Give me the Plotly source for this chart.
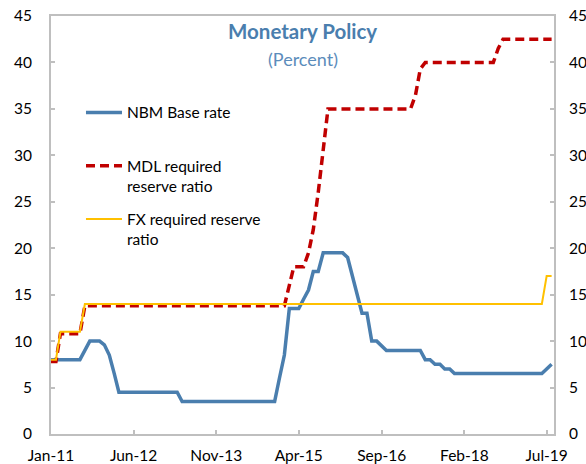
import pandas as pd
import plotly.graph_objects as go

# ---- data (monthly, Jan-2011 .. Aug-2019) ----
start_month = "2011-01-01"

base_rate = [
    8, 8, 8, 8, 8, 8, 8, 9, 10, 10, 10, 9.6,            # 2011
    8.5, 6.5, 4.5, 4.5, 4.5, 4.5, 4.5, 4.5, 4.5, 4.5, 4.5, 4.5,  # 2012
    4.5, 4.5, 4.5, 3.5, 3.5, 3.5, 3.5, 3.5, 3.5, 3.5, 3.5, 3.5,  # 2013
    3.5, 3.5, 3.5, 3.5, 3.5, 3.5, 3.5, 3.5, 3.5, 3.5, 3.5, 6,    # 2014
    8.5, 13.5, 13.5, 13.5, 14.5, 15.5, 17.5, 17.5, 19.5, 19.5, 19.5, 19.5,  # 2015
    19.5, 19, 17, 15, 13, 13, 10, 10, 9.5, 9, 9, 9,      # 2016
    9, 9, 9, 9, 9, 8, 8, 7.5, 7.5, 7, 7, 6.5,            # 2017
    6.5, 6.5, 6.5, 6.5, 6.5, 6.5, 6.5, 6.5, 6.5, 6.5, 6.5, 6.5,  # 2018
    6.5, 6.5, 6.5, 6.5, 6.5, 6.5, 7, 7.5,                # 2019
]

mdl_rr = [
    7.8, 7.8, 10.8, 10.8, 10.8, 10.8, 10.8, 13.8, 13.8, 13.8, 13.8, 13.8,
    13.8, 13.8, 13.8, 13.8, 13.8, 13.8, 13.8, 13.8, 13.8, 13.8, 13.8, 13.8,
    13.8, 13.8, 13.8, 13.8, 13.8, 13.8, 13.8, 13.8, 13.8, 13.8, 13.8, 13.8,
    13.8, 13.8, 13.8, 13.8, 13.8, 13.8, 13.8, 13.8, 13.8, 13.8, 13.8, 13.8,
    13.8, 16, 18, 18, 18, 19.5, 22, 26, 31, 35, 35, 35,
    35, 35, 35, 35, 35, 35, 35, 35, 35, 35, 35, 35,
    35, 35, 35, 36.5, 39.3, 40, 40, 40, 40, 40, 40, 40,
    40, 40, 40, 40, 40, 40, 40, 40, 41.5, 42.5, 42.5, 42.5,
    42.5, 42.5, 42.5, 42.5, 42.5, 42.5, 42.5, 42.5,
]

fx_rr = [
    8, 8, 11, 11, 11, 11, 11, 14, 14, 14, 14, 14,
    14, 14, 14, 14, 14, 14, 14, 14, 14, 14, 14, 14,
    14, 14, 14, 14, 14, 14, 14, 14, 14, 14, 14, 14,
    14, 14, 14, 14, 14, 14, 14, 14, 14, 14, 14, 14,
    14, 14, 14, 14, 14, 14, 14, 14, 14, 14, 14, 14,
    14, 14, 14, 14, 14, 14, 14, 14, 14, 14, 14, 14,
    14, 14, 14, 14, 14, 14, 14, 14, 14, 14, 14, 14,
    14, 14, 14, 14, 14, 14, 14, 14, 14, 14, 14, 14,
    14, 14, 14, 14, 14, 14, 17, 17,
]

series_names = ["NBM Base rate", "MDL required<br>reserve ratio", "FX required reserve<br>ratio"]

tick_dates = ["2011-01-01", "2012-06-01", "2013-11-01", "2015-04-01",
              "2016-09-01", "2018-02-01", "2019-07-01"]
tick_labels = ["Jan-11", "Jun-12", "Nov-13", "Apr-15", "Sep-16", "Feb-18", "Jul-19"]
y_ticks = [0, 5, 10, 15, 20, 25, 30, 35, 40, 45]

months = pd.date_range(start_month, periods=len(base_rate), freq="MS")

BLUE = "#4A7EAE"
RED = "#C00000"
YELLOW = "#FFC000"
GRID = "#BFBFBF"
FONT = "Lato"

fig = go.Figure()
fig.add_trace(go.Scatter(
    x=months, y=base_rate, name=series_names[0] + "<br>\u00a0", mode="lines",
    line=dict(color=BLUE, width=3.5), legendgroup="g1"))
fig.add_trace(go.Scatter(
    x=months, y=mdl_rr, name=series_names[1], mode="lines",
    line=dict(color=RED, width=3.5, dash="9px,5px"), legendgroup="g2"))
fig.add_trace(go.Scatter(
    x=months, y=fx_rr, name=series_names[2], mode="lines", yaxis="y2",
    line=dict(color=YELLOW, width=2), legendgroup="g3"))

axis_common = dict(showgrid=False, zeroline=False, ticks="inside", ticklen=4,
                   tickcolor=GRID, tickwidth=1.5, automargin=False,
                   tickfont=dict(family=FONT, size=15.5, color="#000"))

fig.update_layout(
    width=586, height=464,
    margin=dict(l=51, r=32, t=16, b=30),
    paper_bgcolor="white", plot_bgcolor="white",
    font=dict(family=FONT, size=15.5, color="#000"),
    xaxis=dict(type="date", range=["2011-01-01", "2019-08-16"],
               tickvals=tick_dates, ticktext=tick_labels,
               showline=True, linecolor=GRID, linewidth=2, mirror=True,
               ticklabelstandoff=6, **axis_common),
    yaxis=dict(range=[0, 45], tickvals=y_ticks,
               showline=True, linecolor=GRID, linewidth=2, mirror=True,
               ticklabelstandoff=14, **axis_common),
    yaxis2=dict(range=[0, 45], tickvals=y_ticks, overlaying="y", side="right",
                showline=False, ticklabelstandoff=14, **axis_common),
    showlegend=True,
    legend=dict(x=0.0596, y=0.809, xanchor="left", yanchor="top",
                bgcolor="rgba(0,0,0,0)", borderwidth=0,
                font=dict(family=FONT, size=15.5, color="#000"),
                valign="top", tracegroupgap=10, itemwidth=36),
    annotations=[
        dict(text="<b>Monetary Policy</b>", xref="paper", yref="paper",
             x=0.5, y=0.963, xanchor="center", yanchor="middle", showarrow=False,
             font=dict(family=FONT, size=20.5, color=BLUE)),
        dict(text="(Percent)", xref="paper", yref="paper",
             x=0.5, y=0.897, xanchor="center", yanchor="middle", showarrow=False,
             font=dict(family=FONT, size=18, color="#5B8CBB")),
    ],
)

fig.write_html("out.html",
               config={"displayModeBar": False},
               post_script="document.body.style.margin='0px';document.body.style.padding='0px';")
